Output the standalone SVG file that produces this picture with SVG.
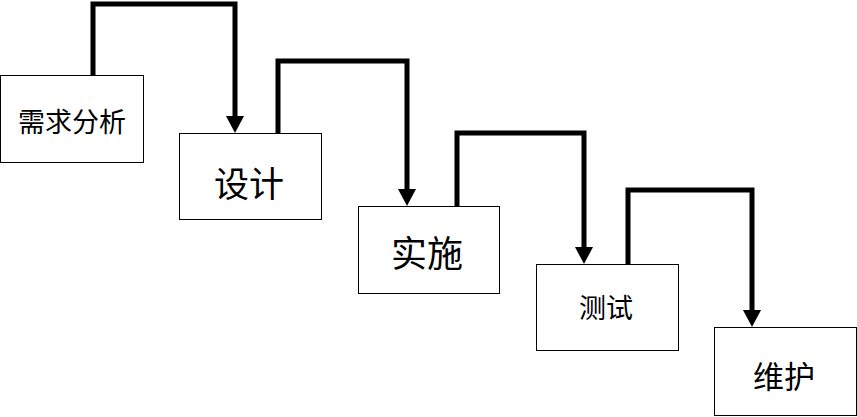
<svg xmlns="http://www.w3.org/2000/svg" width="857" height="417" viewBox="0 0 857 417">
<style>
.b{fill:#fff;stroke:#000;stroke-width:1}
.t{font-family:"Noto Sans CJK SC",sans-serif;fill:#000;text-anchor:middle;dominant-baseline:central}
.c{fill:none;stroke:#000;stroke-width:5}
</style>
<rect width="857" height="417" fill="#fff"/>
<g id="connectors">
<path class="c" d="M93,75V4H235V118"/><polygon points="226,116 244,116 235,133"/>
<path class="c" d="M278,133V61H407V191"/><polygon points="398,189 416,189 407,206"/>
<path class="c" d="M457,206V133H584V249"/><polygon points="575,247 593,247 584,264"/>
<path class="c" d="M628,264V190H752V312"/><polygon points="743,310 761,310 752,327"/>
</g>
<g id="n1"><rect class="b" x="0.5" y="75.5" width="143" height="87"/><text class="t" x="72" y="120" font-size="27">需求分析</text></g>
<g id="n2"><rect class="b" x="179.5" y="133.5" width="142" height="86"/><text class="t" x="249" y="181" font-size="35">设计</text></g>
<g id="n3"><rect class="b" x="358.5" y="206.5" width="141" height="87"/><text class="t" x="427" y="251" font-size="36">实施</text></g>
<g id="n4"><rect class="b" x="536.5" y="264.5" width="142" height="86"/><text class="t" x="606" y="306" font-size="27">测试</text></g>
<g id="n5"><rect class="b" x="714.5" y="327.5" width="142" height="88"/><text class="t" x="784" y="374" font-size="31">维护</text></g>
</svg>
